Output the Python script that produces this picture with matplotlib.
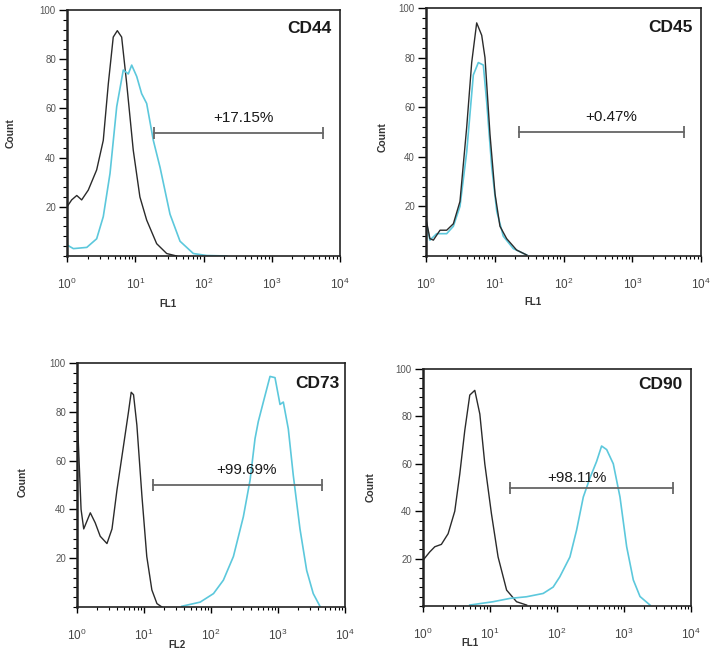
import numpy as np
import matplotlib
matplotlib.use("Agg")
import matplotlib.pyplot as plt
from matplotlib.ticker import LogLocator, NullFormatter, MultipleLocator

plt.rcParams['font.family'] = ['Liberation Sans', 'DejaVu Sans']
plt.rcParams['mathtext.default'] = 'regular'

BLACK = '#2b2b2b'
CYAN = '#5cc8dc'

# CD44 (FL1)
cd44_bx = [1.0, 1.17, 1.39, 1.64, 2.05, 2.72, 3.40, 4.03, 4.76, 5.46, 6.32, 7.50, 9.35, 11.7, 14.7, 20.6, 28.9, 40.5]
cd44_by = [20, 22.8, 24.6, 22.8, 26.8, 35, 47, 70, 89, 91.6, 89, 70, 43, 24, 14.6, 5, 1, 0]
cd44_cx = [1.0, 1.24, 1.95, 2.72, 3.40, 4.27, 5.35, 6.68, 7.91, 8.87, 10.5, 12.4, 14.7, 18.4, 23.1, 32.3, 45.3, 71.0, 111, 219]
cd44_cy = [4.5, 3, 3.5, 7, 16, 33.6, 60.7, 75.6, 74, 77.6, 73, 66, 62, 47, 36, 17, 6, 1, 0.2, 0]

# CD45 (FL1)
cd45_bx = [1.0, 1.14, 1.28, 1.60, 2.0, 2.50, 3.12, 3.91, 4.62, 5.46, 6.46, 7.21, 8.53, 10.1, 11.9, 14.9, 20.8, 29.2]
cd45_by = [15, 7, 6.4, 10.4, 10.4, 13, 22, 52, 78, 94, 89, 80, 49, 25, 12, 7, 2.4, 0.4]
cd45_cx = [1.0, 1.14, 1.43, 2.0, 2.50, 3.12, 3.91, 4.88, 5.77, 6.82, 7.64, 9.03, 10.7, 13.3, 18.6, 29.2]
cd45_cy = [14, 6.4, 9, 9, 12, 20, 42, 73, 78, 77, 62, 36, 18, 8, 3, 0.4]

# CD73 (FL2)
cd73_bx = [1.02, 1.15, 1.26, 1.58, 1.87, 2.22, 2.80, 3.33, 3.95, 4.94, 5.87, 6.44, 6.98, 7.83, 9.31, 11.0, 13.1, 15.6, 18.5]
cd73_by = [75, 40, 32, 38.6, 34.5, 29, 26, 32, 48, 66, 80, 88, 87, 74.5, 45.5, 20.7, 7, 1.4, 0]
cd73_cx = [36.7, 68.9, 109, 153, 216, 304, 383, 454, 508, 604, 760, 902, 1072, 1200, 1425, 1690, 2128, 2679, 3357, 4227]
cd73_cy = [0.3, 2, 5.5, 11, 20.7, 37, 52, 69, 76, 84, 94.5, 94, 83, 84, 73, 54, 32, 15, 5.5, 0.3]

# CD90 (FL1)
cd90_bx = [1.0, 1.26, 1.50, 1.88, 2.37, 2.98, 3.54, 4.20, 4.99, 5.93, 7.05, 8.36, 10.5, 13.2, 17.7, 24.9, 35.2]
cd90_by = [19.3, 22.8, 25, 26, 30.5, 40, 55.7, 74, 89, 91, 81, 60, 39, 20.7, 6.7, 1.8, 0.4]
cd90_cx = [4.99, 11.1, 19.8, 35.1, 62.2, 87.7, 110, 156, 196, 247, 310, 390, 463, 551, 692, 871, 1096, 1377, 1734, 2443]
cd90_cy = [0.4, 1.8, 3.2, 3.9, 5.3, 8, 12.3, 20.7, 32, 46, 54, 61, 67.5, 66, 60, 46, 25, 11, 4, 0.4]

names = ['CD44', 'CD45', 'CD73', 'CD90']
channels = ['FL1', 'FL1', 'FL2', 'FL1']
percents = ['+17.15%', '+0.47%', '+99.69%', '+98.11%']
gate_lo = [19.0, 22.8, 13.6, 20.2]
gate_hi = [5690, 5660, 4570, 5460]
gate_y = [50, 50, 50, 50]
label_x = [383, 500, 340, 196]
label_y = [56, 56, 56, 54]
black_x = [cd44_bx, cd45_bx, cd73_bx, cd90_bx]
black_y = [cd44_by, cd45_by, cd73_by, cd90_by]
cyan_x = [cd44_cx, cd45_cx, cd73_cx, cd90_cx]
cyan_y = [cd44_cy, cd45_cy, cd73_cy, cd90_cy]

W, H = 713, 652
# pixel boxes: left, right, top, bottom
boxes = [(67, 340, 10, 256), (426, 701, 8, 256), (77, 345, 363, 607), (423, 691, 369, 606)]
xlab_pos = [(0.37, -0.175), (0.39, -0.165), (0.373, -0.135), (0.175, -0.135)]
ylab_pos = [(-0.19, 0.5), (-0.138, 0.48), (-0.183, 0.51), (-0.175, 0.5)]
title_pos = [(0.97, 0.923), (0.97, 0.923), (0.98, 0.914), (0.97, 0.935)]

fig = plt.figure(figsize=(W / 100, H / 100), dpi=100)

for i in range(4):
    l, r, t, b = boxes[i]
    ax = fig.add_axes([l / W, 1 - b / H, (r - l) / W, (b - t) / H])
    if i == 1:
        ax.plot(cyan_x[i], cyan_y[i], color=CYAN, lw=1.2)
        ax.plot(black_x[i], black_y[i], color=BLACK, lw=1.0)
    else:
        ax.plot(black_x[i], black_y[i], color=BLACK, lw=1.0)
        ax.plot(cyan_x[i], cyan_y[i], color=CYAN, lw=1.2)

    # gate bar
    ax.plot([gate_lo[i], gate_hi[i]], [gate_y[i], gate_y[i]], color='#666666', lw=1.3)
    ax.plot([gate_lo[i], gate_hi[i]], [gate_y[i], gate_y[i]], ls='none', marker='|',
            ms=8, mew=1.3, color='#666666')
    ax.text(label_x[i], label_y[i], percents[i], ha='center', va='center',
            fontsize=11, color='#1a1a1a')
    ax.text(title_pos[i][0], title_pos[i][1], names[i], transform=ax.transAxes,
            ha='right', va='center', fontsize=12.5, fontweight='bold', color='#1a1a1a')

    ax.set_xscale('log')
    ax.set_xlim(1, 1e4)
    ax.set_ylim(0, 100)
    ax.xaxis.set_major_locator(LogLocator(base=10, numticks=10))
    ax.xaxis.set_minor_locator(LogLocator(base=10, subs=np.arange(2, 10), numticks=10))
    ax.xaxis.set_minor_formatter(NullFormatter())
    ax.set_yticks([20, 40, 60, 80, 100])
    ax.yaxis.set_minor_locator(MultipleLocator(4))

    ax.tick_params(axis='x', which='major', direction='out', length=4, width=1,
                   pad=11, labelsize=8.5, labelcolor='#444444')
    ax.tick_params(axis='x', which='minor', direction='out', length=2.5, width=0.8)
    ax.tick_params(axis='y', which='major', direction='out', length=6, width=1,
                   pad=2, labelsize=7, labelcolor='#555555')
    ax.tick_params(axis='y', which='minor', direction='out', length=3, width=0.8)

    for s in ax.spines.values():
        s.set_linewidth(1.2)
        s.set_color('#222222')
    ax.spines['left'].set_linewidth(1.8)

    ax.set_xlabel(channels[i], fontsize=7, fontweight='bold', color='#333333')
    ax.xaxis.set_label_coords(*xlab_pos[i])
    ax.set_ylabel('Count', fontsize=7.5, fontweight='bold', color='#333333')
    ax.yaxis.set_label_coords(*ylab_pos[i])

fig.savefig('out.png', dpi=100)
